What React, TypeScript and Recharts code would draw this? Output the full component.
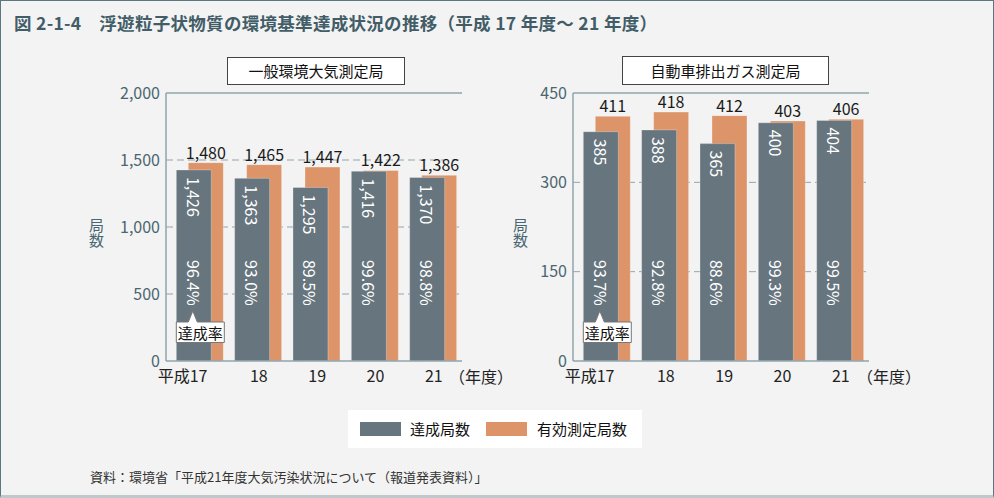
import React from "react";
import {
  BarChart,
  Bar,
  XAxis,
  YAxis,
  CartesianGrid,
  LabelList,
  ReferenceLine,
} from "recharts";

// 年度（平成）
const years = ["17", "18", "19", "20", "21"];

// 一般環境大気測定局
const ambientAchieved = [1426, 1363, 1295, 1416, 1370];
const ambientMeasured = [1480, 1465, 1447, 1422, 1386];
const ambientRate = [96.4, 93.0, 89.5, 99.6, 98.8];
const ambientTicks = [0, 500, 1000, 1500, 2000];

// 自動車排出ガス測定局
const roadsideAchieved = [385, 388, 365, 400, 404];
const roadsideMeasured = [411, 418, 412, 403, 406];
const roadsideRate = [93.7, 92.8, 88.6, 99.3, 99.5];
const roadsideTicks = [0, 150, 300, 450];

const GRAY = "#67757e";
const ORANGE = "#dc9468";
const AXIS = "#91a5ac";
const AXIS_TEXT = "#4a6670";
const FONT = '"Noto Sans CJK JP", "Noto Sans", sans-serif';

const fmt = (v: number) => v.toLocaleString("en-US");

function XTick(props: any) {
  const { x, y, payload } = props;
  const first = payload.value === years[0];
  return (
    <text
      x={first ? x + 14 : x + 7}
      y={y + 14}
      textAnchor={first ? "end" : "middle"}
      dominantBaseline="central"
      fill="#222"
      fontSize={16}
      fontFamily={FONT}
    >
      {first ? "平成" + payload.value : payload.value}
    </text>
  );
}

type PanelProps = {
  achieved: number[];
  measured: number[];
  rate: number[];
  ticks: number[];
};

function Panel({ achieved, measured, rate, ticks }: PanelProps) {
  const data = years.map((year, i) => ({
    year,
    achieved: achieved[i],
    measured: measured[i],
  }));
  const max = ticks[ticks.length - 1];

  const orangeLabel = (p: any) => {
    const vb = p.viewBox ?? p;
    const cx = vb.x + vb.width / 2;
    return (
      <text
        x={cx}
        y={vb.y - 4}
        textAnchor="middle"
        fill="#1a1a1a"
        fontSize={16}
        fontFamily={FONT}
      >
        {fmt(p.value)}
      </text>
    );
  };

  const grayLabel = (p: any) => {
    const vb = p.viewBox ?? p;
    const cx = vb.x + vb.width / 2;
    const top = vb.y + 7;
    const bottom = vb.y + vb.height;
    const rateY = bottom - 101;
    const boxTop = bottom - 39;
    const bx = vb.x;
    return (
      <g fontFamily={FONT}>
        <text
          x={cx}
          y={top}
          transform={`rotate(90 ${cx} ${top})`}
          dominantBaseline="central"
          fill="#fff"
          fontSize={16}
        >
          {fmt(p.value)}
        </text>
        <text
          x={cx}
          y={rateY}
          transform={`rotate(90 ${cx} ${rateY})`}
          dominantBaseline="central"
          fill="#fff"
          fontSize={16}
        >
          {rate[p.index].toFixed(1)}%
        </text>
        {p.index === 0 && (
          <g>
            <path
              d={`M${bx},${boxTop} L${bx + 12},${boxTop} L${bx + 16.5},${boxTop - 11} L${bx + 21},${boxTop} L${bx + 48},${boxTop} L${bx + 48},${boxTop + 20.5} L${bx},${boxTop + 20.5} Z`}
              fill="#fff"
              stroke="#777"
              strokeWidth={1}
            />
            <text
              x={bx + 24}
              y={boxTop + 10.5}
              textAnchor="middle"
              dominantBaseline="central"
              fill="#111"
              fontSize={15}
            >
              達成率
            </text>
          </g>
        )}
      </g>
    );
  };

  return (
    <BarChart
      width={400}
      height={310}
      data={data}
      margin={{ top: 13, right: 18, bottom: 4, left: 26 }}
      barSize={35}
    >
      <CartesianGrid
        xAxisId="g"
        vertical={false}
        horizontalValues={ticks.slice(1, -1)}
        stroke={AXIS}
        strokeDasharray="7 4"
      />
      <XAxis xAxisId="o" dataKey="year" hide padding={{ left: 10.3, right: -6 }} />
      <XAxis
        xAxisId="g"
        dataKey="year"
        padding={{ left: -1.7, right: 6 }}
        height={25}
        interval={0}
        tickLine={false}
        tickSize={0}
        tickMargin={0}
        axisLine={{ stroke: AXIS, strokeWidth: 1.5 }}
        tick={<XTick />}
      />
      <YAxis
        domain={[0, max]}
        ticks={ticks}
        width={60}
        tickLine={false}
        tickSize={0}
        tickMargin={6}
        axisLine={{ stroke: AXIS, strokeWidth: 1.5 }}
        tickFormatter={fmt}
        tick={{ fill: AXIS_TEXT, fontSize: 16, fontFamily: FONT }}
      />
      <YAxis
        yAxisId="r"
        orientation="right"
        domain={[0, max]}
        width={0}
        tick={false}
        tickLine={false}
        axisLine={{ stroke: AXIS, strokeWidth: 1.5 }}
      />
      <ReferenceLine xAxisId="g" y={max} stroke={AXIS} strokeWidth={1.5} />
      <Bar
        xAxisId="o"
        dataKey="measured"
        fill={ORANGE}
        stroke="rgba(255,255,255,0.3)"
        isAnimationActive={false}
      >
        <LabelList dataKey="measured" content={orangeLabel} />
      </Bar>
      <Bar
        xAxisId="g"
        dataKey="achieved"
        fill={GRAY}
        stroke="rgba(255,255,255,0.3)"
        isAnimationActive={false}
      >
        <LabelList dataKey="achieved" content={grayLabel} />
      </Bar>
    </BarChart>
  );
}

const abs = (s: React.CSSProperties): React.CSSProperties => ({
  position: "absolute",
  ...s,
});

export default function App() {
  return (
    <div
      style={{
        position: "absolute",
        left: 0,
        top: 0,
        width: 994,
        height: 498,
        boxSizing: "border-box",
        background: "#f3f3f3",
        border: "1px solid #5b7781",
        borderBottom: "3px solid #bfc8cb",
        fontFamily: FONT,
        overflow: "hidden",
      }}
    >
      <div
        style={abs({
          left: 13,
          top: 9,
          fontSize: 17.5,
          letterSpacing: 0.3,
          fontWeight: 700,
          color: "#425d68",
          whiteSpace: "nowrap",
        })}
      >
        図 2-1-4　浮遊粒子状物質の環境基準達成状況の推移（平成 17 年度〜 21 年度）
      </div>

      <div
        style={abs({
          left: 226,
          top: 56,
          width: 176,
          height: 26,
          background: "#fff",
          border: "1px solid #444",
          fontSize: 15,
          lineHeight: "26px",
          textAlign: "center",
          color: "#111",
        })}
      >
        一般環境大気測定局
      </div>
      <div
        style={abs({
          left: 621,
          top: 55,
          width: 205,
          height: 27,
          background: "#fff",
          border: "1px solid #444",
          fontSize: 15,
          lineHeight: "27px",
          textAlign: "center",
          color: "#111",
        })}
      >
        自動車排出ガス測定局
      </div>

      <div style={abs({ left: 79, top: 79 })}>
        <Panel
          achieved={ambientAchieved}
          measured={ambientMeasured}
          rate={ambientRate}
          ticks={ambientTicks}
        />
      </div>
      <div style={abs({ left: 486, top: 79 })}>
        <Panel
          achieved={roadsideAchieved}
          measured={roadsideMeasured}
          rate={roadsideRate}
          ticks={roadsideTicks}
        />
      </div>

      {[87, 511].map((x) => (
        <div
          key={x}
          style={abs({
            left: x,
            top: 217,
            width: 16,
            fontSize: 15,
            lineHeight: "16px",
            writingMode: "vertical-rl",
            color: AXIS_TEXT,
          })}
        >
          局数
        </div>
      ))}
      {[448, 856].map((x) => (
        <div
          key={x}
          style={abs({ left: x, top: 364, fontSize: 16, lineHeight: "22px", color: "#222" })}
        >
          （年度）
        </div>
      ))}

      <div
        style={abs({
          left: 347,
          top: 409,
          width: 294,
          height: 38,
          background: "#fff",
        })}
      >
        <div style={abs({ left: 12, top: 12, width: 41, height: 14, background: GRAY })} />
        <div style={abs({ left: 62, top: 7, fontSize: 15, lineHeight: "24px", color: "#111" })}>
          達成局数
        </div>
        <div style={abs({ left: 138, top: 12, width: 41, height: 14, background: ORANGE })} />
        <div style={abs({ left: 189, top: 7, fontSize: 15, lineHeight: "24px", color: "#111" })}>
          有効測定局数
        </div>
      </div>

      <div
        style={abs({
          left: 89,
          top: 466,
          fontSize: 13,
          lineHeight: "20px",
          color: "#333",
          whiteSpace: "nowrap",
        })}
      >
        資料：環境省「平成21年度大気汚染状況について（報道発表資料）」
      </div>
    </div>
  );
}
